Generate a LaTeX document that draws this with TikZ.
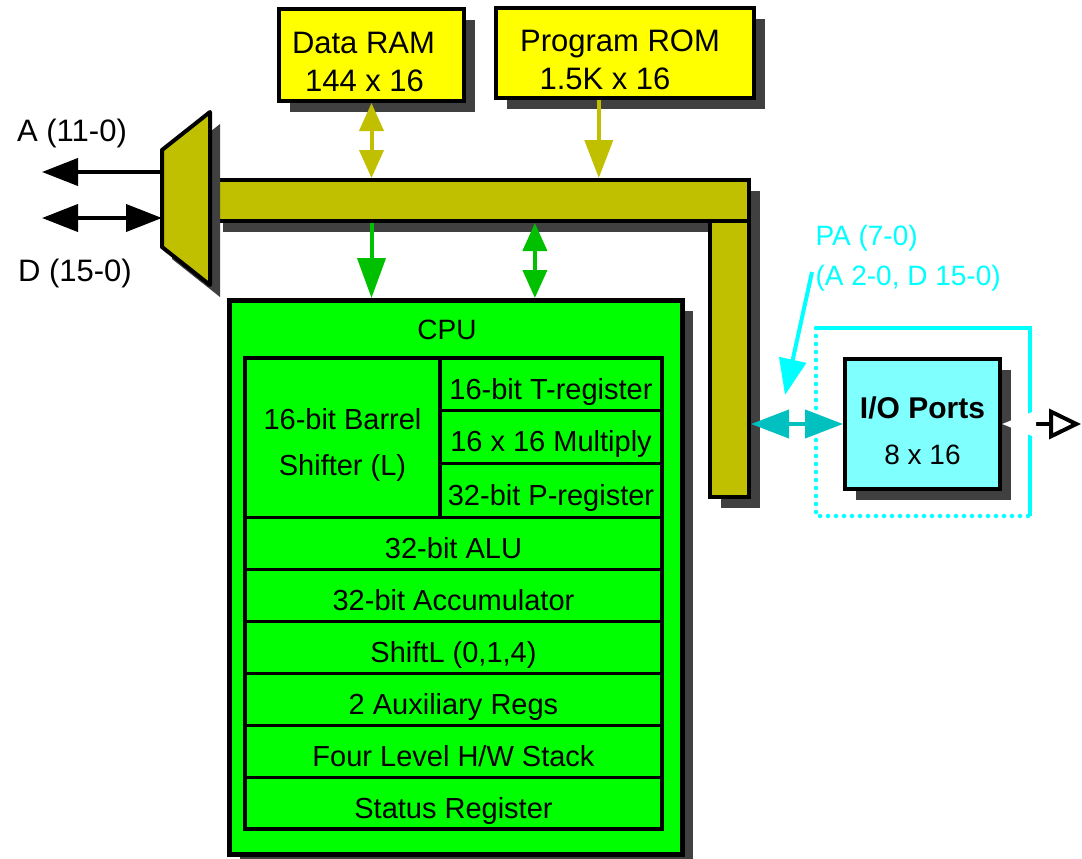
\documentclass[tikz,border=0pt]{standalone}
\usepackage{fontspec}
\setmainfont{Liberation Sans}
\usetikzlibrary{arrows.meta,shadows,calc}
\definecolor{busolive}{RGB}{192,192,0}
\definecolor{shadowgray}{RGB}{64,64,64}
\definecolor{cpugreen}{RGB}{0,255,0}
\definecolor{arrowgreen}{RGB}{0,192,0}
\definecolor{memyellow}{RGB}{255,255,0}
\definecolor{iocyan}{RGB}{128,255,255}
\definecolor{portteal}{RGB}{0,192,192}
\definecolor{pacyan}{RGB}{0,255,255}
\newcommand{\memstrut}{\rule{0pt}{36pt}}
\tikzset{
  shade box/.style={drop shadow={shadow xshift=11pt,shadow yshift=-11pt,opacity=1,fill=shadowgray}},
  membox/.style={draw,line width=4pt,fill=memyellow,anchor=north west,inner sep=0pt,align=center,shade box,font=\fontsize{31}{38}\selectfont},
  busbar/.style={draw,line width=4pt,fill=busolive,anchor=north west,inner sep=0pt,shade box},
  cell/.style={draw,line width=3pt,anchor=north west,inner sep=0pt,outer sep=0pt,align=center,font=\fontsize{29}{35}\selectfont},
  rowtext/.style={cell,text height=31pt,text depth=1pt},
  biglabel/.style={font=\fontsize{31}{38}\selectfont},
  conn/.style={line width=4pt,>={Triangle[length=36pt,width=27pt]}},
  small tips/.style={>={Triangle[length=28pt,width=24pt]}},
  dotted frame/.style={line width=4.5pt,pacyan,dash pattern=on 0pt off 8pt,line cap=round},
}
\begin{document}
\begin{tikzpicture}[x=1pt,y=-1pt,font=\fontsize{28}{34}\selectfont]
\useasboundingbox (0,0) rectangle (1082,859);
\node[membox,minimum width=185pt,minimum height=92pt] (ram) at (277,7) {\memstrut Data RAM\hspace*{16pt}\\144 x 16\hspace*{14pt}};
\node[membox,minimum width=258pt,minimum height=90pt] (rom) at (494,6) {\memstrut Program ROM\hspace*{10pt}\\1.5K x 16\hspace*{40pt}};
\node[busbar,minimum width=537pt,minimum height=41pt] (bush) at (210,178) {};
\node[busbar,minimum width=39pt,minimum height=276pt] (busv) at (708,219) {};
\fill[shadowgray] (172,162) -- (220,124) -- (220,297) -- (172,259) -- cycle;
\draw[line width=4pt,fill=busolive,line join=round] (162,150) -- (210,112) -- (210,285) -- (162,247) -- cycle;
\coordinate (muxA) at (162,172);
\coordinate (muxD) at (162,218);
\coordinate (aout) at (42,172);
\coordinate (dout) at (42,218);
\draw[conn,->] (muxA) -- (aout);
\draw[conn,<->] (dout) -- (muxD);
\node[biglabel] (alabel) at (72,133) {A (11-0)};
\node[biglabel] (dlabel) at (75,273) {D (15-0)};
\draw[conn,busolive,<->,small tips] (ram.south) -- (ram.south |- bush.north);
\coordinate (romtap) at ($(rom.south west)!0.4!(rom.south east)$);
\draw[conn,busolive,->,>={Triangle[length=38pt,width=28pt]}] (romtap) -- (romtap |- bush.north);
\node[draw,line width=4.5pt,fill=cpugreen,anchor=north west,minimum width=453pt,minimum height=554pt,inner sep=0pt,shade box] (cpu) at (227,298) {};
\node (cpulabel) at (447,330) {CPU};
\draw[conn,arrowgreen,->,>={Triangle[length=40pt,width=28pt]}] (ram.south |- bush.south) -- (ram.south |- cpu.north);
\coordinate (cputap) at ($(cpu.north west)!0.673!(cpu.north east)$);
\draw[conn,arrowgreen,<->,small tips] (cputap |- bush.south) -- (cputap);
\node[cell,minimum width=195pt,minimum height=159pt,font=\fontsize{29}{46}\selectfont] (barrel) at (245,358) {\memstrut 16-bit Barrel\\Shifter (L)};
\node[rowtext,minimum width=222pt,minimum height=52pt] (treg) at (440,358) {16-bit T-register};
\node[rowtext,minimum width=222pt,minimum height=53pt] (mult) at (440,410) {16 x 16 Multiply};
\node[rowtext,minimum width=222pt,minimum height=54pt] (preg) at (440,463) {32-bit P-register};
\foreach \name/\txt [count=\i] in {alu/32-bit ALU,acc/32-bit Accumulator,shiftl/{ShiftL (0,1,4)},aux/2 Auxiliary Regs,stack/{Four Level H/W Stack},status/Status Register}
  \node[rowtext,minimum width=417pt,minimum height=52pt] (\name) at (245,{517+52*(\i-1)}) {\txt};
\draw[line width=4.5pt] (barrel.north west) rectangle (status.south east);
\draw[line width=4pt] (barrel.north east) -- (barrel.south east);
\draw[dotted frame] (816,328) -- (816,516) -- (1030,516);
\draw[line width=4pt,pacyan] (816,328) -- (1030,328) -- (1030,516);
\node[draw,line width=4pt,fill=iocyan,anchor=north west,minimum width=155pt,minimum height=130pt,inner sep=0pt,align=center,shade box] (io) at (843,357) {\memstrut{\bfseries\fontsize{30}{36}\selectfont I/O Ports}\\[12pt]8 x 16};
\draw[conn,portteal,<->,>={Triangle[length=38pt,width=28pt]}] (busv.east |- io.west) -- (io.west);
\node[pacyan,align=left,anchor=west] (palabel) at (812,258) {PA (7-0)\\[6pt](A 2-0, D 15-0)};
\coordinate (pastart) at (812,272);
\coordinate (patip) at (785,395);
\draw[conn,pacyan,->] (pastart) -- (patip);
\coordinate (portout) at (1081,420);
\draw[conn,{Triangle[white,length=34pt,width=26pt]}-{Triangle[open,length=32pt,width=30pt,line width=4pt]}] (io.east) -- (io.east -| portout);
\end{tikzpicture}
\end{document}
